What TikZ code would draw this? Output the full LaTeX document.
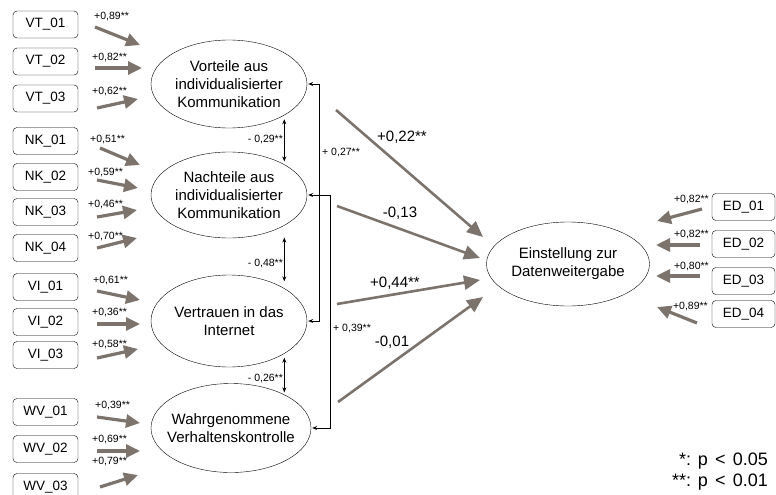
\documentclass[tikz,border=0pt]{standalone}
\usepackage{fontspec}
\setmainfont{Liberation Sans}
\usetikzlibrary{shapes.geometric,arrows.meta,positioning}
\definecolor{pathgray}{RGB}{124,115,108}

\tikzset{
  latent/.style={draw, ellipse, inner sep=0pt, minimum width=156pt, minimum height=88pt,
    align=center, font=\fontsize{15}{18}\selectfont},
  item/.style={draw, rounded corners=4pt, minimum width=65pt, minimum height=27pt,
    inner sep=0pt, font=\fontsize{13.5}{16}\selectfont},
  load/.style={draw=pathgray, line width=3.2pt, -{Triangle[length=14pt,width=13pt]}},
  effect/.style={draw=pathgray, line width=2.6pt, -{Triangle[length=16pt,width=14pt]}},
  corr/.style={line width=0.8pt, {Stealth[length=5pt,width=4pt]}-{Stealth[length=5pt,width=4pt]}},
  small/.style={inner sep=1pt, font=\fontsize{10.5}{12}\selectfont},
  big/.style={inner sep=0pt, font=\fontsize{15}{18}\selectfont}
}

\begin{document}
\begin{tikzpicture}[x=1pt,y=-1pt]
    \useasboundingbox (0,0) rectangle (776,495);

    % latente Konstrukte
    \node[latent] (vor) at (229,84) {Vorteile aus\\individualisierter\\Kommunikation};
    \node[latent, minimum height=86pt] (nach) at (229,195) {Nachteile aus\\individualisierter\\Kommunikation};
    \node[latent, minimum height=92pt] (vert) at (229,321) {Vertrauen in das\\Internet};
    \node[latent, inner xsep=-8pt, minimum width=160pt, minimum height=89pt] (wahr) at (231,428) {Wahrgenommene\\Verhaltenskontrolle};
    \node[latent, minimum width=163pt, minimum height=84pt] (ein) at (568,264) {Einstellung zur\\Datenweitergabe};

    % Indikatoren links
    \node[item] (vt1) at (45.5,24.5) {VT\_01};
    \node[item] (vt2) at (45.5,61.5) {VT\_02};
    \node[item] (vt3) at (45.5,98.5) {VT\_03};
    \node[item] (nk1) at (45.5,141) {NK\_01};
    \node[item] (nk2) at (45.5,177) {NK\_02};
    \node[item] (nk3) at (45.5,212) {NK\_03};
    \node[item] (nk4) at (45.5,248) {NK\_04};
    \node[item] (vi1) at (45.5,287) {VI\_01};
    \node[item] (vi2) at (45.5,322) {VI\_02};
    \node[item] (vi3) at (45.5,355) {VI\_03};
    \node[item] (wv1) at (45.5,412) {WV\_01};
    \node[item] (wv2) at (45.5,449) {WV\_02};
    \node[item] (wv3) at (45.5,487) {WV\_03};

    % Indikatoren rechts
    \node[item, minimum width=63pt] (ed1) at (743.5,207) {ED\_01};
    \node[item, minimum width=63pt] (ed2) at (743.5,244) {ED\_02};
    \node[item, minimum width=63pt] (ed3) at (743.5,281) {ED\_03};
    \node[item, minimum width=63pt] (ed4) at (743.5,314) {ED\_04};

    % Ladungen
    \coordinate (vt1a) at (95,27);   \coordinate (vt1b) at (140,45);
    \coordinate (vt2a) at (95,68);   \coordinate (vt2b) at (142,68);
    \coordinate (vt3a) at (97,108);  \coordinate (vt3b) at (138,99);
    \coordinate (nk1a) at (100,148); \coordinate (nk1b) at (140,165);
    \coordinate (nk2a) at (97,180);  \coordinate (nk2b) at (138,188);
    \coordinate (nk3a) at (97,217);  \coordinate (nk3b) at (137,210);
    \coordinate (nk4a) at (97,248);  \coordinate (nk4b) at (137,238);
    \coordinate (vi1a) at (97,291);  \coordinate (vi1b) at (140,300);
    \coordinate (vi2a) at (97,324);  \coordinate (vi2b) at (140,324);
    \coordinate (vi3a) at (97,358);  \coordinate (vi3b) at (138,349);
    \coordinate (wv1a) at (97,417);  \coordinate (wv1b) at (140,423);
    \coordinate (wv2a) at (97,451);  \coordinate (wv2b) at (140,451);
    \coordinate (wv3a) at (100,487); \coordinate (wv3b) at (138,475);
    \coordinate (ed1a) at (702,209); \coordinate (ed1b) at (657,221);
    \coordinate (ed2a) at (700,245); \coordinate (ed2b) at (656,245);
    \coordinate (ed3a) at (700,276); \coordinate (ed3b) at (656,276);
    \coordinate (ed4a) at (697,323); \coordinate (ed4b) at (657,307);

    \draw[load] (vt1a) -- (vt1b);
    \draw[load] (vt2a) -- (vt2b);
    \draw[load] (vt3a) -- (vt3b);
    \draw[load] (nk1a) -- (nk1b);
    \draw[load] (nk2a) -- (nk2b);
    \draw[load] (nk3a) -- (nk3b);
    \draw[load] (nk4a) -- (nk4b);
    \draw[load] (vi1a) -- (vi1b);
    \draw[load] (vi2a) -- (vi2b);
    \draw[load] (vi3a) -- (vi3b);
    \draw[load] (wv1a) -- (wv1b);
    \draw[load] (wv2a) -- (wv2b);
    \draw[load] (wv3a) -- (wv3b);
    \draw[load] (ed1a) -- (ed1b);
    \draw[load] (ed2a) -- (ed2b);
    \draw[load] (ed3a) -- (ed3b);
    \draw[load] (ed4a) -- (ed4b);

    \node[small, anchor=west] (lvt1) at (93,17) {+0,89**};
    \node[small, anchor=west] (lvt2) at (91,58) {+0,82**};
    \node[small, anchor=west] (lvt3) at (91,92) {+0,62**};
    \node[small, anchor=west] (lnk1) at (89,140) {+0,51**};
    \node[small, anchor=west] (lnk2) at (87,173) {+0,59**};
    \node[small, anchor=west] (lnk3) at (87,205) {+0,46**};
    \node[small, anchor=west] (lnk4) at (87,237) {+0,70**};
    \node[small, anchor=west] (lvi1) at (92,281) {+0,61**};
    \node[small, anchor=west] (lvi2) at (91,313) {+0,36**};
    \node[small, anchor=west] (lvi3) at (91,345) {+0,58**};
    \node[small, anchor=west] (lwv1) at (94,406) {+0,39**};
    \node[small, anchor=west] (lwv2) at (91,440) {+0,69**};
    \node[small, anchor=west] (lwv3) at (91,462) {+0,79**};
    \node[small, anchor=east] (led1) at (710,200) {+0,82**};
    \node[small, anchor=east] (led2) at (710,235) {+0,82**};
    \node[small, anchor=east] (led3) at (710,267) {+0,80**};
    \node[small, anchor=east] (led4) at (709,307) {+0,89**};

    % Korrelationen
    \draw[corr, shorten <=4pt, shorten >=3pt] (vor.south east) -- node[small, left] (k1) {- 0,29**} (vor.south east |- nach.north east);
    \draw[corr, shorten <=12pt, shorten >=7pt] (nach.south east) -- node[small, left, yshift=-7pt] (k2) {- 0,48**} (nach.south east |- vert.north east);
    \draw[corr, shorten <=4pt, shorten >=4pt] (vert.south east) -- node[small, left, yshift=-3pt] (k3) {- 0,26**} (vert.south east |- wahr.north east);
    \draw[corr, shorten <=1pt, shorten >=1pt] (vor.east) -- ++(12,0) |- (vert.east);
    \draw[corr, shorten <=1pt, shorten >=1pt] (nach.east) -- ++(23,0) |- (wahr.east);
    \node[small, anchor=west] (k4) at (321,153) {+ 0,27**};
    \node[small, anchor=west] (k5) at (332,329) {+ 0,39**};

    % Pfade
    \coordinate (vorA) at (336,110);  \coordinate (vorB) at (483,237);
    \coordinate (nachA) at (337,206); \coordinate (nachB) at (480,258);
    \coordinate (vertA) at (337,304); \coordinate (vertB) at (480,280);
    \coordinate (wahrA) at (338,402); \coordinate (wahrB) at (483,297);
    \draw[effect] (vorA) -- (vorB);
    \draw[effect] (nachA) -- (nachB);
    \draw[effect] (vertA) -- (vertB);
    \draw[effect] (wahrA) -- (wahrB);
    \node[big] (p1) at (402,137) {+0,22**};
    \node[big] (p2) at (400,213) {-0,13};
    \node[big] (p3) at (395,283) {+0,44**};
    \node[big] (p4) at (392,342) {-0,01};

    % Legende
    \node[inner sep=0pt, anchor=east, align=right, font=\fontsize{18}{21}\selectfont] (legende) at (768,472)
        {*: p\hspace{0.4em}<\hspace{0.4em}0.05\\**: p\hspace{0.4em}<\hspace{0.4em}0.01};
\end{tikzpicture}
\end{document}
